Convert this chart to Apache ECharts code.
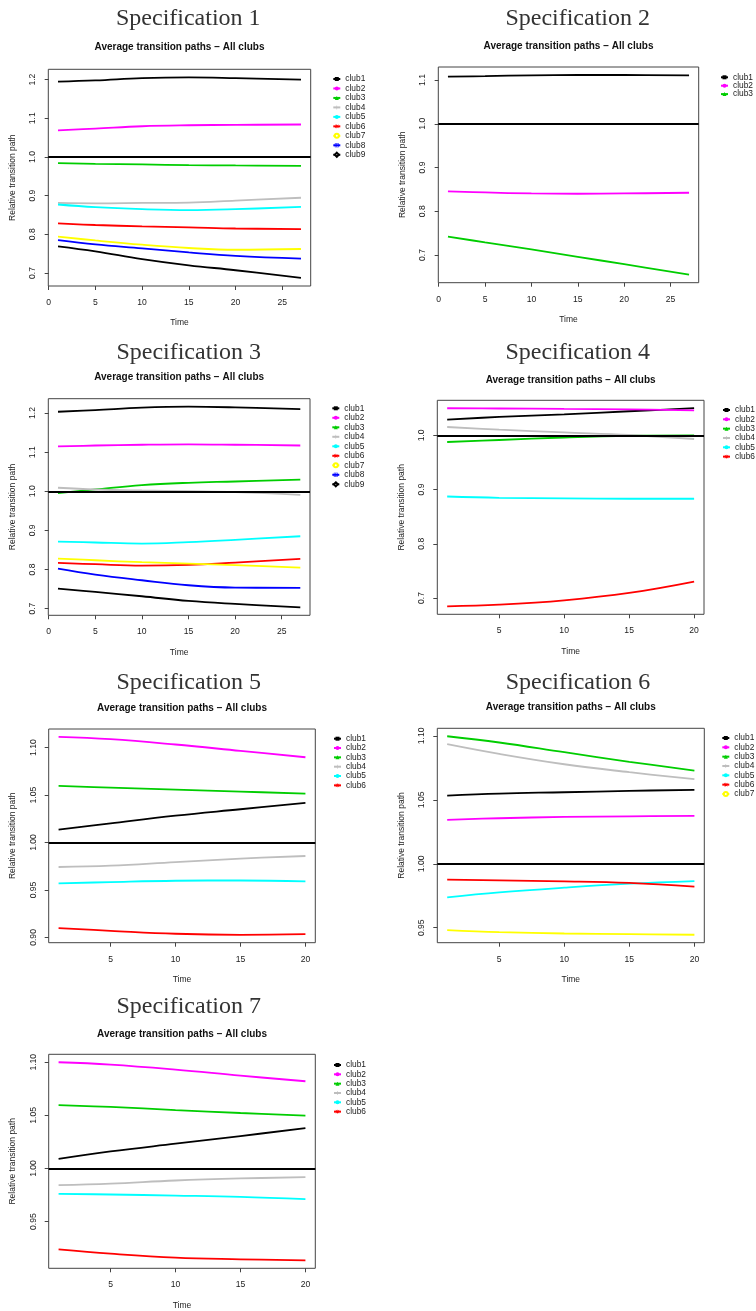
<!DOCTYPE html>
<html>
<head>
<meta charset="utf-8">
<script src="https://cdn.jsdelivr.net/npm/echarts@6/dist/echarts.min.js"></script>
<style>
  html, body { margin: 0; padding: 0; background: #fff; }
  #chart { width: 756px; height: 1311px; }
</style>
</head>
<body>
<div id="chart"></div>
<script>
// ---- data ----
const clubNames = ['club1', 'club2', 'club3', 'club4', 'club5', 'club6', 'club7', 'club8', 'club9'];
const timesLong = [1, 5, 10, 15, 20, 27];
const timesShort = [1, 5, 10, 15, 20];
const xTicksLong = [0, 5, 10, 15, 20, 25];
const xTicksShort = [5, 10, 15, 20];

const spec1 = [
  [1.195, 1.198, 1.204, 1.206, 1.204, 1.200],
  [1.069, 1.0735, 1.0795, 1.082, 1.083, 1.084],
  [0.984, 0.982, 0.9806, 0.979, 0.978, 0.977],
  [0.881, 0.880, 0.881, 0.882, 0.887, 0.8945],
  [0.877, 0.870, 0.865, 0.8626, 0.865, 0.871],
  [0.828, 0.824, 0.8205, 0.818, 0.815, 0.8136],
  [0.794, 0.784, 0.773, 0.7645, 0.760, 0.762],
  [0.785, 0.774, 0.7637, 0.753, 0.744, 0.737],
  [0.769, 0.756, 0.736, 0.7198, 0.707, 0.687]
];
const spec2 = [
  [1.1076, 1.109, 1.1107, 1.1115, 1.1115, 1.1107],
  [0.8453, 0.843, 0.8407, 0.840, 0.8407, 0.8423],
  [0.742, 0.729, 0.713, 0.696, 0.679, 0.655]
];
const spec3 = [
  [1.2034, 1.2077, 1.2137, 1.2162, 1.2145, 1.210],
  [1.1147, 1.117, 1.119, 1.120, 1.119, 1.117],
  [0.9952, 1.0046, 1.0157, 1.0217, 1.025, 1.030],
  [1.009, 1.0046, 1.002, 1.0003, 0.998, 0.991],
  [0.8715, 0.869, 0.8664, 0.870, 0.8758, 0.885],
  [0.817, 0.8135, 0.810, 0.8118, 0.8177, 0.827],
  [0.828, 0.8237, 0.8186, 0.8152, 0.811, 0.805],
  [0.8024, 0.787, 0.7725, 0.7597, 0.7537, 0.753],
  [0.7512, 0.7427, 0.7316, 0.7196, 0.712, 0.7034]
];
const spec4 = [
  [1.029, 1.0339, 1.0388, 1.0444, 1.050],
  [1.050, 1.0495, 1.0487, 1.048, 1.0462],
  [0.9877, 0.9914, 0.996, 0.9992, 1.000],
  [1.0154, 1.0105, 1.0055, 1.0006, 0.9932],
  [0.8872, 0.8848, 0.8836, 0.883, 0.883],
  [0.6845, 0.6876, 0.6956, 0.7092, 0.7302]
];
const spec5 = [
  [1.0135, 1.0202, 1.0283, 1.035, 1.0417],
  [1.1112, 1.1088, 1.1032, 1.0965, 1.0898],
  [1.0596, 1.0578, 1.0557, 1.0536, 1.0515],
  [0.9742, 0.9756, 0.9794, 0.983, 0.9858],
  [0.9569, 0.9583, 0.9597, 0.960, 0.959],
  [0.9098, 0.907, 0.9039, 0.9028, 0.9035]
];
const spec6 = [
  [1.0533, 1.0549, 1.0559, 1.057, 1.0577],
  [1.0343, 1.0356, 1.0366, 1.0371, 1.0374],
  [1.0997, 1.0948, 1.0872, 1.0797, 1.0729],
  [1.0935, 1.0859, 1.0778, 1.0716, 1.0661],
  [0.9737, 0.9776, 0.9813, 0.9844, 0.9865],
  [0.9876, 0.987, 0.9863, 0.985, 0.9821],
  [0.9482, 0.9466, 0.9455, 0.945, 0.9445]
];
const spec7 = [
  [1.0091, 1.016, 1.0233, 1.0305, 1.038],
  [1.100, 1.0978, 1.0931, 1.0874, 1.0821],
  [1.0597, 1.0579, 1.055, 1.0522, 1.0497],
  [0.9843, 0.9858, 0.9887, 0.9906, 0.9918],
  [0.9761, 0.9755, 0.9745, 0.9733, 0.9711],
  [0.9239, 0.9198, 0.916, 0.9145, 0.9135]
];

const yTicks1 = [0.7, 0.8, 0.9, 1.0, 1.1, 1.2];
const yTicks2 = [0.7, 0.8, 0.9, 1.0, 1.1];
const yTicks4 = [0.7, 0.8, 0.9, 1.0];
const yTicks5 = [0.90, 0.95, 1.00, 1.05, 1.10];
const yTicks6 = [0.95, 1.00, 1.05, 1.10];
const referenceLevel = 1.0;

// ---- styles ----
const clubColors = ['#000000', '#ff00ff', '#00cd00', '#bebebe', '#00ffff', '#ff0000', '#ffff00', '#0000ff', '#000000'];
const plusIcon = 'path://M4.3,0H5.7V4.3H10V5.7H5.7V10H4.3V5.7H0V4.3H4.3Z';
const starIcon = 'path://M4.4,0H5.6V10H4.4Z M0,4.4H10V5.6H0Z M1.2,0.4L9.6,8.8L8.8,9.6L0.4,1.2Z M8.8,0.4L9.6,1.2L1.2,9.6L0.4,8.8Z';
const boxPlusIcon = 'path://M0,0H10V10H0Z M1.2,1.2V8.8H8.8V1.2Z M4.4,1.2H5.6V8.8H4.4Z M1.2,4.4H8.8V5.6H1.2Z';
const clubSymbols = ['rect', 'circle', 'triangle', plusIcon, 'circle', starIcon, 'emptyCircle', boxPlusIcon, 'emptyDiamond'];

const sans = 'Liberation Sans, Arial, sans-serif';
const textColor = '#222';

// ---- layout: [left, top, width, height] of each plot box ----
const gridBoxes = [
  [48.3, 69.3, 262.4, 216.7],
  [438.3, 67, 260.4, 215.7],
  [48.3, 398.7, 261.7, 216.6],
  [437.3, 400.3, 266.7, 214],
  [48.7, 729, 266.6, 213.7],
  [437.3, 728.3, 267, 214.4],
  [48.7, 1054.3, 266.6, 214]
];
const headingPos = [[188.3, 18.5], [577.7, 18.5], [188.7, 352.5], [577.7, 352.5], [188.7, 683], [578, 683], [188.7, 1006.5]];
const subtitleY = [47.7, 46, 377.3, 380, 708.3, 707.7, 1034];
const legendPos = [[332.3, 79, 9.47], [720, 77.3, 8.4], [331.3, 408.3, 9.5], [722, 410, 9.33], [333, 738.7, 9.33], [721.3, 738, 9.33], [333, 1065, 9.33]];

const panels = [
  { values: spec1, times: timesLong, xTicks: xTicksLong, yTicks: yTicks1, digits: 1 },
  { values: spec2, times: timesLong, xTicks: xTicksLong, yTicks: yTicks2, digits: 1 },
  { values: spec3, times: timesLong, xTicks: xTicksLong, yTicks: yTicks1, digits: 1 },
  { values: spec4, times: timesShort, xTicks: xTicksShort, yTicks: yTicks4, digits: 1 },
  { values: spec5, times: timesShort, xTicks: xTicksShort, yTicks: yTicks5, digits: 2 },
  { values: spec6, times: timesShort, xTicks: xTicksShort, yTicks: yTicks6, digits: 2 },
  { values: spec7, times: timesShort, xTicks: xTicksShort, yTicks: yTicks6, digits: 2 }
];

const grids = [], xAxes = [], yAxes = [], series = [], legends = [], graphics = [];

panels.forEach((p, k) => {
  const box = gridBoxes[k];
  grids.push({
    left: box[0], top: box[1], width: box[2], height: box[3],
    show: true, borderColor: '#444', borderWidth: 1, backgroundColor: 'transparent',
    containLabel: false, outerBoundsMode: 'none'
  });

  // R style range: data range widened by 4% on each side
  const all = p.values.flat();
  const lo = Math.min(...all), hi = Math.max(...all);
  const t0 = p.times[0], t1 = p.times[p.times.length - 1];
  const padY = (hi - lo) * 0.04, padX = (t1 - t0) * 0.04;

  xAxes.push({
    type: 'value', gridIndex: k, min: t0 - padX, max: t1 + padX,
    name: 'Time', nameLocation: 'middle', nameGap: 32.5,
    nameTextStyle: { fontFamily: sans, fontSize: 8.5, color: textColor },
    axisLine: { show: false },
    axisTick: { show: true, length: 4, customValues: p.xTicks, lineStyle: { color: '#444', width: 1 } },
    axisLabel: { customValues: p.xTicks, fontFamily: sans, fontSize: 8.6, color: textColor, margin: 12 },
    splitLine: { show: false }
  });
  yAxes.push({
    type: 'value', gridIndex: k, min: lo - padY, max: hi + padY,
    name: 'Relative transition path', nameLocation: 'middle', nameGap: 31.5,
    nameTextStyle: { fontFamily: sans, fontSize: 8.5, color: textColor },
    axisLine: { show: false },
    axisTick: { show: true, length: 4, customValues: p.yTicks, lineStyle: { color: '#444', width: 1 } },
    axisLabel: {
      customValues: p.yTicks, rotate: 90, fontFamily: sans, fontSize: 8.6, color: textColor, margin: 11,
      formatter: v => v.toFixed(p.digits)
    },
    splitLine: { show: false }
  });

  p.values.forEach((vals, i) => {
    const s = {
      type: 'line', name: clubNames[i], xAxisIndex: k, yAxisIndex: k,
      data: p.times.map((t, j) => [t, vals[j]]),
      smooth: 0.4, showSymbol: false, symbol: clubSymbols[i], symbolSize: 4,
      lineStyle: { color: clubColors[i], width: 1.8 },
      itemStyle: { color: clubColors[i] },
      emphasis: { disabled: true }, silent: true
    };
    if (i === 0) {
      s.markLine = {
        silent: true, symbol: 'none', label: { show: false },
        lineStyle: { color: '#000', width: 1.8, type: 'solid' },
        data: [{ yAxis: referenceLevel }]
      };
    }
    series.push(s);
  });

  const lp = legendPos[k];
  legends.push({
    data: clubNames.slice(0, p.values.length),
    orient: 'vertical', left: lp[0], top: lp[1] - lp[2] / 2,
    itemWidth: 7, itemHeight: 5, itemGap: 0, padding: 0,
    selectedMode: false,
    textStyle: { fontFamily: sans, fontSize: 8.4, color: textColor, lineHeight: lp[2] }
  });

  graphics.push({
    type: 'text', x: headingPos[k][0], y: headingPos[k][1],
    style: {
      text: 'Specification ' + (k + 1), align: 'center', verticalAlign: 'middle',
      font: '24px "Liberation Serif", serif', fill: '#333'
    }
  });
  graphics.push({
    type: 'text', x: box[0] + box[2] / 2, y: subtitleY[k],
    style: {
      text: 'Average transition paths \u2212 All clubs', align: 'center', verticalAlign: 'middle',
      font: 'bold 10px "Liberation Sans", Arial, sans-serif', fill: '#111'
    }
  });
});

const chart = echarts.init(document.getElementById('chart'));
chart.setOption({
  animation: false,
  backgroundColor: '#fff',
  grid: grids,
  xAxis: xAxes,
  yAxis: yAxes,
  legend: legends,
  graphic: graphics,
  series: series
});
</script>
</body>
</html>
